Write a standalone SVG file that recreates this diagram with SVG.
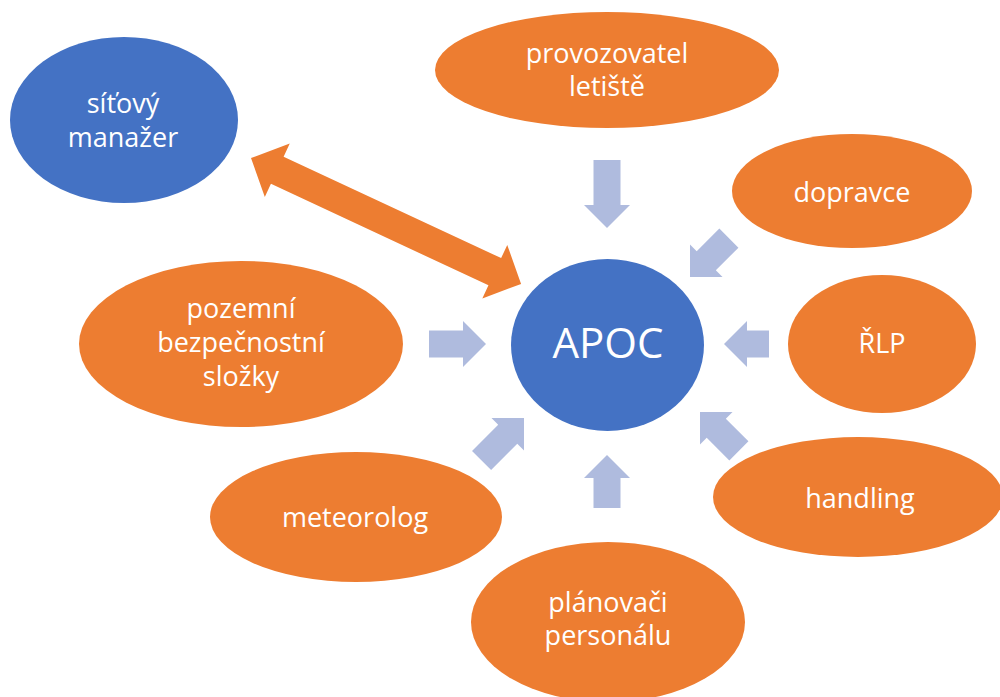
<svg xmlns="http://www.w3.org/2000/svg" width="1000" height="697" viewBox="0 0 1000 697">
  <defs>
    <style>
      .blue { fill: #4472C4; }
      .orange { fill: #ED7D31; }
      .flow { fill: #AFBBDE; }
      .lbl { fill: #FFFFFF; font-family: "Open Sans", "Liberation Sans", sans-serif; font-size: 27px; text-anchor: middle; }
      .big { font-size: 42px; }
    </style>
    <!-- block arrow pointing right, tip at origin; shaft length set per use -->
    <polygon id="arr22" points="0,0 -23,-23 -23,-13.5 -45,-13.5 -45,13.5 -23,13.5 -23,23"/>
    <polygon id="arr30" points="0,0 -23,-23 -23,-13.5 -53,-13.5 -53,13.5 -23,13.5 -23,23"/>
    <polygon id="arr32" points="0,0 -23,-23 -23,-13.5 -55,-13.5 -55,13.5 -23,13.5 -23,23"/>
    <polygon id="arr34" points="0,0 -23,-23 -23,-13.5 -57,-13.5 -57,13.5 -23,13.5 -23,23"/>
    <polygon id="arr37" points="0,0 -23,-23 -23,-13.5 -60,-13.5 -60,13.5 -23,13.5 -23,23"/>
    <polygon id="arr45" points="0,0 -23,-23 -23,-13.5 -68,-13.5 -68,13.5 -23,13.5 -23,23"/>
  </defs>

  <rect width="1000" height="697" fill="#FFFFFF"/>

  <!-- connectors -->
  <g id="connectors">
    <use href="#arr45" class="flow" transform="translate(607,228) rotate(90)"/>
    <use href="#arr32" class="flow" transform="translate(690,277) rotate(135)"/>
    <use href="#arr22" class="flow" transform="translate(724,344) rotate(180)"/>
    <use href="#arr32" class="flow" transform="translate(700,412) rotate(-135)"/>
    <use href="#arr30" class="flow" transform="translate(607,455) rotate(-90)"/>
    <use href="#arr37" class="flow" transform="translate(524,418) rotate(-45)"/>
    <use href="#arr34" class="flow" transform="translate(486,344)"/>
    <!-- two-way link between APOC and network manager -->
    <polygon class="orange" transform="translate(251,158) rotate(25)"
             points="0,0 29,-29.5 29,-15 269,-15 269,-29.5 298,0 269,29.5 269,15 29,15 29,29.5"/>
  </g>

  <g id="sitovy-manazer">
    <ellipse class="blue" cx="124" cy="120" rx="114" ry="83"/>
    <text class="lbl" x="123" y="113">síťový</text>
    <text class="lbl" x="123" y="147">manažer</text>
  </g>

  <g id="provozovatel-letiste">
    <ellipse class="orange" cx="607" cy="70" rx="172" ry="58"/>
    <text class="lbl" x="607" y="63">provozovatel</text>
    <text class="lbl" x="607" y="96">letiště</text>
  </g>

  <g id="dopravce">
    <ellipse class="orange" cx="852" cy="191" rx="120" ry="57"/>
    <text class="lbl" x="852" y="202">dopravce</text>
  </g>

  <g id="rlp">
    <ellipse class="orange" cx="882" cy="344" rx="94" ry="69"/>
    <text class="lbl" x="882" y="353">ŘLP</text>
  </g>

  <g id="handling">
    <ellipse class="orange" cx="858" cy="497" rx="145" ry="60"/>
    <text class="lbl" x="860" y="508">handling</text>
  </g>

  <g id="planovaci-personalu">
    <ellipse class="orange" cx="608" cy="622" rx="137" ry="80"/>
    <text class="lbl" x="608" y="612">plánovači</text>
    <text class="lbl" x="608" y="645">personálu</text>
  </g>

  <g id="meteorolog">
    <ellipse class="orange" cx="356" cy="517" rx="146" ry="65"/>
    <text class="lbl" x="355" y="527">meteorolog</text>
  </g>

  <g id="pozemni-bezpecnostni-slozky">
    <ellipse class="orange" cx="241" cy="344" rx="162" ry="83"/>
    <text class="lbl" x="241" y="318">pozemní</text>
    <text class="lbl" x="241" y="352">bezpečnostní</text>
    <text class="lbl" x="241" y="386">složky</text>
  </g>

  <g id="apoc">
    <ellipse class="blue" cx="607.5" cy="345" rx="96.5" ry="86"/>
    <text class="lbl big" x="608" y="358">APOC</text>
  </g>
</svg>
